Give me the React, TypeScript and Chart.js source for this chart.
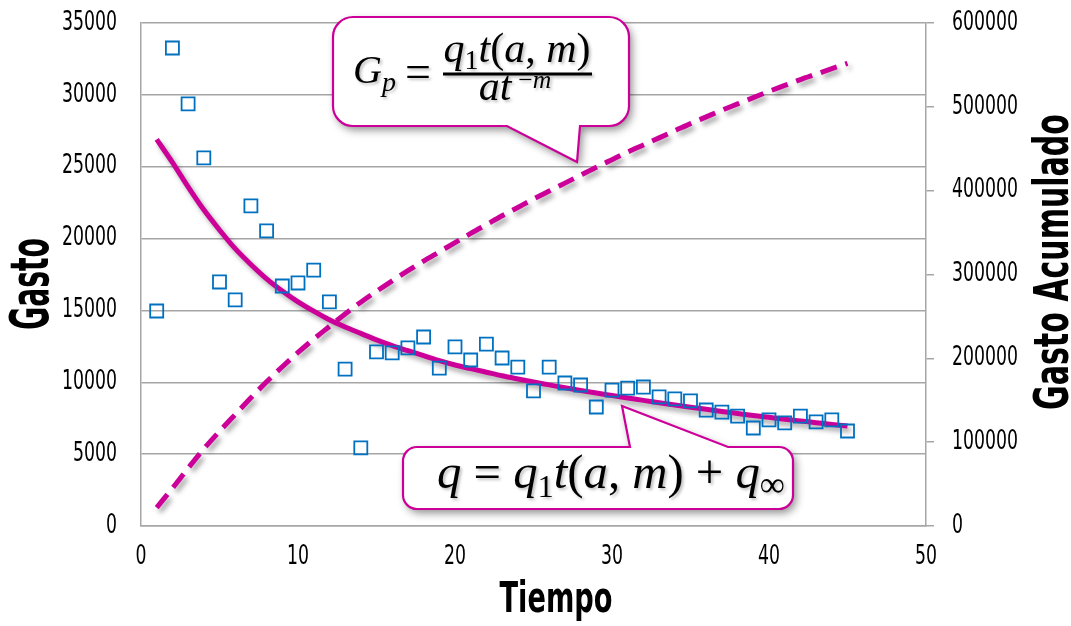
import React, { useEffect, useRef } from 'react';
import { Chart, registerables } from 'chart.js';

Chart.register(...registerables);

// ---------- data ----------
const tiempo = [1, 2, 3, 4, 5, 6, 7, 8, 9, 10, 11, 12, 13, 14, 15, 16, 17, 18, 19, 20, 21, 22, 23, 24, 25, 26, 27, 28, 29, 30, 31, 32, 33, 34, 35, 36, 37, 38, 39, 40, 41, 42, 43, 44, 45];

const gastoObservado = [14960, 33260, 29370, 25610, 16980, 15730, 22270, 20530, 16700, 16910, 17810, 15590, 10920, 5430, 12110, 12040, 12390, 13150, 10990, 12460, 11550, 12660, 11690, 11060, 9400, 11060, 9950, 9810, 8280, 9460, 9600, 9670, 8980, 8840, 8700, 8070, 7930, 7650, 6820, 7380, 7170, 7650, 7240, 7380, 6610];

const gastoModelo = [26900, 25300, 23600, 22000, 20600, 19300, 18200, 17200, 16350, 15600, 14950, 14350, 13850, 13400, 12950, 12550, 12200, 11850, 11500, 11200, 10950, 10700, 10450, 10230, 10020, 9820, 9620, 9430, 9250, 9080, 8910, 8740, 8580, 8420, 8270, 8120, 7970, 7830, 7690, 7560, 7430, 7310, 7190, 7070, 6960];

const gastoAcumulado = [22000, 45000, 69000, 92000, 113000, 133000, 153000, 172000, 190000, 207000, 223000, 238000, 253000, 267000, 280000, 292500, 304500, 316000, 327000, 338000, 349000, 359500, 370000, 380000, 390000, 399500, 409000, 418500, 428000, 437000, 446000, 454500, 463000, 471500, 480000, 488000, 496000, 503500, 511000, 518500, 525500, 532500, 539000, 545500, 552000];

const xRange = [0, 50];
const xStep = 10;
const yLeftRange = [0, 35000];
const yLeftStep = 5000;
const yRightRange = [0, 600000];
const yRightStep = 100000;

const tituloX = 'Tiempo';
const tituloYIzq = 'Gasto';
const tituloYDer = 'Gasto Acumulado';

// ---------- styles ----------
const MAGENTA = '#CC0099';
const BLUE = '#0070C0';
const GRID = '#A6A6A6';
const NARROW = "'Liberation Sans Narrow', 'DejaVu Sans Condensed', 'Arial Narrow', sans-serif";
const SERIF = "'Liberation Serif', 'DejaVu Serif', serif";
const TICK_FONT = `26px ${NARROW}`;
const DIGIT_W = 11; // target width of one digit in tick labels

type Run = { t: string; i?: boolean; s: number; dy?: number };

function runFont(r: Run, k: number) {
  return `${r.i ? 'italic ' : ''}${r.s * k}px ${SERIF}`;
}
function runsWidth(ctx: CanvasRenderingContext2D, runs: Run[], k: number) {
  let w = 0;
  for (const r of runs) {
    ctx.font = runFont(r, k);
    w += ctx.measureText(r.t).width;
  }
  return w;
}
function drawRuns(ctx: CanvasRenderingContext2D, runs: Run[], x: number, y: number, k: number) {
  let cx = x;
  ctx.textAlign = 'left';
  ctx.textBaseline = 'alphabetic';
  for (const r of runs) {
    ctx.font = runFont(r, k);
    ctx.fillText(r.t, cx, y + (r.dy || 0) * k);
    cx += ctx.measureText(r.t).width;
  }
}

function drawStretched(ctx: CanvasRenderingContext2D, text: string, x: number, y: number, angle: number, font: string, target: number) {
  ctx.save();
  ctx.font = font;
  const w = ctx.measureText(text).width;
  ctx.translate(x, y);
  ctx.rotate(angle);
  ctx.scale(target / w, 1);
  ctx.textAlign = 'center';
  ctx.textBaseline = 'alphabetic';
  ctx.fillStyle = '#000';
  ctx.fillText(text, 0, 0);
  ctx.restore();
}

function drawTick(ctx: CanvasRenderingContext2D, text: string, x: number, y: number, align: 'left' | 'right' | 'center') {
  ctx.save();
  ctx.font = TICK_FONT;
  const sx = DIGIT_W / ctx.measureText('0').width;
  const w = ctx.measureText(text).width * sx;
  let left = x;
  if (align === 'right') left = x - w;
  if (align === 'center') left = x - w / 2;
  ctx.translate(left, y);
  ctx.scale(sx, 1);
  ctx.textAlign = 'left';
  ctx.textBaseline = 'middle';
  ctx.fillStyle = '#000';
  ctx.fillText(text, 0, 0);
  ctx.restore();
}

function calloutShape(ctx: CanvasRenderingContext2D, build: () => void) {
  ctx.save();
  ctx.shadowColor = 'rgba(0,0,0,0.45)';
  ctx.shadowBlur = 8;
  ctx.shadowOffsetX = 3;
  ctx.shadowOffsetY = 4;
  ctx.fillStyle = '#fff';
  build();
  ctx.fill();
  ctx.shadowColor = 'transparent';
  ctx.strokeStyle = MAGENTA;
  ctx.lineWidth = 2.2;
  ctx.lineJoin = 'miter';
  ctx.stroke();
  ctx.restore();
}

const bgPlugin = {
  id: 'bg',
  beforeDraw(chart: any) {
    const c = chart.ctx;
    c.save();
    c.fillStyle = '#fff';
    c.fillRect(0, 0, chart.width, chart.height);
    c.restore();
  },
};

const shadowPlugin = {
  id: 'lineShadow',
  beforeDatasetDraw(chart: any, args: any) {
    const ds = chart.data.datasets[args.index];
    if (ds.shadow) {
      const c = chart.ctx;
      c.save();
      c.shadowColor = 'rgba(0,0,0,0.35)';
      c.shadowBlur = 5;
      c.shadowOffsetX = 3;
      c.shadowOffsetY = 4;
    }
  },
  afterDatasetDraw(chart: any, args: any) {
    const ds = chart.data.datasets[args.index];
    if (ds.shadow) chart.ctx.restore();
  },
};

const overlayPlugin = {
  id: 'overlay',
  afterDraw(chart: any) {
    const ctx: CanvasRenderingContext2D = chart.ctx;
    const { x, y, y2 } = chart.scales;
    // tick labels (narrow)
    for (const t of y.ticks) drawTick(ctx, String(t.value), y.right - 24, y.getPixelForValue(t.value), 'right');
    for (const t of y2.ticks) drawTick(ctx, String(t.value), y2.left + 26, y2.getPixelForValue(t.value), 'left');
    for (const t of x.ticks) drawTick(ctx, String(t.value), x.getPixelForValue(t.value), x.top + 31, 'center');

    // axis titles
    drawStretched(ctx, tituloYIzq, 48, 284, -Math.PI / 2, `bold 54px ${NARROW}`, 92);
    drawStretched(ctx, tituloYDer, 1068, 262, -Math.PI / 2, `bold 48px ${NARROW}`, 296);
    drawStretched(ctx, tituloX, 556, 612, 0, `bold 42px ${NARROW}`, 113);

    // callout 1
    calloutShape(ctx, () => {
      const x0 = 333, y0 = 17, x1 = 629, y1 = 126, r = 20;
      ctx.beginPath();
      ctx.moveTo(x0 + r, y0);
      ctx.lineTo(x1 - r, y0);
      ctx.arcTo(x1, y0, x1, y0 + r, r);
      ctx.lineTo(x1, y1 - r);
      ctx.arcTo(x1, y1, x1 - r, y1, r);
      ctx.lineTo(580, y1);
      ctx.lineTo(577, 162);
      ctx.lineTo(507, y1);
      ctx.lineTo(x0 + r, y1);
      ctx.arcTo(x0, y1, x0, y1 - r, r);
      ctx.lineTo(x0, y0 + r);
      ctx.arcTo(x0, y0, x0 + r, y0, r);
      ctx.closePath();
    });
    // callout 2
    calloutShape(ctx, () => {
      const x0 = 403, y0 = 447, x1 = 793, y1 = 509, r = 14;
      ctx.beginPath();
      ctx.moveTo(x0 + r, y0);
      ctx.lineTo(630, y0);
      ctx.lineTo(622, 406);
      ctx.lineTo(728, y0);
      ctx.lineTo(x1 - r, y0);
      ctx.arcTo(x1, y0, x1, y0 + r, r);
      ctx.lineTo(x1, y1 - r);
      ctx.arcTo(x1, y1, x1 - r, y1, r);
      ctx.lineTo(x0 + r, y1);
      ctx.arcTo(x0, y1, x0, y1 - r, r);
      ctx.lineTo(x0, y0 + r);
      ctx.arcTo(x0, y0, x0 + r, y0, r);
      ctx.closePath();
    });

    ctx.save();
    ctx.fillStyle = '#000';
    ctx.shadowColor = 'rgba(0,0,0,0.25)';
    ctx.shadowBlur = 3;
    ctx.shadowOffsetX = 2;
    ctx.shadowOffsetY = 2;

    // formula 1: G_p = q1 t(a,m) / a t^-m
    const left: Run[] = [
      { t: 'G', i: true, s: 40 },
      { t: 'p', i: true, s: 28, dy: 8 },
    ];
    drawRuns(ctx, left, 353, 83, 1);
    drawRuns(ctx, [{ t: '=', s: 46 }], 405, 87, 1);
    const num: Run[] = [
      { t: 'q', i: true, s: 36 },
      { t: '1', s: 24, dy: 6 },
      { t: 't', i: true, s: 36 },
      { t: '(', s: 36 },
      { t: 'a', i: true, s: 36 },
      { t: ', ', s: 36 },
      { t: 'm', i: true, s: 36 },
      { t: ')', s: 36 },
    ];
    const den: Run[] = [
      { t: 'a', i: true, s: 36 },
      { t: 't', i: true, s: 36 },
      { t: '\u2009', s: 30 },
      { t: '\u2212', s: 22, dy: -10 },
      { t: 'm', i: true, s: 22, dy: -10 },
    ];
    const kNum = 147 / runsWidth(ctx, num, 1);
    const wNum = runsWidth(ctx, num, kNum);
    drawRuns(ctx, num, 517 - wNum / 2, 62, kNum);
    const wDen = runsWidth(ctx, den, kNum);
    drawRuns(ctx, den, 515 - wDen / 2, 100, kNum);
    ctx.fillRect(443, 72.5, 149, 3);

    // formula 2: q = q1 t(a,m) + q_inf
    const f2: Run[] = [
      { t: 'q', i: true, s: 36 },
      { t: ' = ', s: 36 },
      { t: 'q', i: true, s: 36 },
      { t: '1', s: 24, dy: 7 },
      { t: 't', i: true, s: 36 },
      { t: '(', s: 36 },
      { t: 'a', i: true, s: 36 },
      { t: ', ', s: 36 },
      { t: 'm', i: true, s: 36 },
      { t: ')', s: 36 },
      { t: ' + ', s: 36 },
      { t: 'q', i: true, s: 36 },
      { t: '\u221E', s: 26, dy: 6 },
    ];
    const k2 = 348 / runsWidth(ctx, f2, 1);
    drawRuns(ctx, f2, 437, 488, k2);
    ctx.restore();
  },
};

export default function App() {
  const ref = useRef<HTMLCanvasElement>(null);
  useEffect(() => {
    document.body.style.margin = '0';
    const canvas = ref.current!;
    const chart = new Chart(canvas, {
      type: 'line',
      data: {
        datasets: [
          {
            label: 'Gasto observado',
            data: tiempo.map((t, i) => ({ x: t, y: gastoObservado[i] })),
            yAxisID: 'y',
            showLine: false,
            pointStyle: 'rect',
            pointRadius: 9.2,
            pointHoverRadius: 9.2,
            pointBorderWidth: 1.8,
            pointBorderColor: BLUE,
            pointBackgroundColor: 'rgba(0,0,0,0)',
            borderColor: BLUE,
            order: 0,
          },
          {
            label: 'Gasto modelo',
            data: tiempo.map((t, i) => ({ x: t, y: gastoModelo[i] })),
            yAxisID: 'y',
            borderColor: MAGENTA,
            borderWidth: 5,
            pointRadius: 0,
            cubicInterpolationMode: 'monotone',
            shadow: true,
            order: 1,
          } as any,
          {
            label: 'Gasto acumulado',
            data: tiempo.map((t, i) => ({ x: t, y: gastoAcumulado[i] })),
            yAxisID: 'y2',
            borderColor: MAGENTA,
            borderWidth: 5,
            borderDash: [17, 9],
            pointRadius: 0,
            cubicInterpolationMode: 'monotone',
            shadow: true,
            order: 2,
          } as any,
        ],
      },
      options: {
        responsive: false,
        animation: false,
        layout: { padding: { top: 23, left: 0, right: 0, bottom: 0 } },
        plugins: { legend: { display: false }, tooltip: { enabled: false } },
        scales: {
          x: {
            type: 'linear',
            min: xRange[0],
            max: xRange[1],
            afterFit: (s: any) => { s.height = 100; s.paddingLeft = 0; s.paddingRight = 0; },
            ticks: {
              stepSize: xStep,
              color: 'rgba(0,0,0,0)',
              padding: 18,
              font: { family: NARROW, size: 14 },
              maxRotation: 0,
            },
            grid: { display: false, drawTicks: false },
            border: { display: true, color: GRID, width: 1.5 },
          },
          y: {
            type: 'linear',
            position: 'left',
            min: yLeftRange[0],
            max: yLeftRange[1],
            afterFit: (s: any) => { s.width = 141; s.paddingTop = 0; s.paddingBottom = 0; },
            ticks: {
              stepSize: yLeftStep,
              color: 'rgba(0,0,0,0)',
              padding: 24,
              font: { family: NARROW, size: 14 },
              callback: (v: any) => String(v),
            },
            grid: { color: GRID, lineWidth: 1.5, drawTicks: false },
            border: { display: true, color: GRID, width: 1.5 },
          },
          y2: {
            type: 'linear',
            position: 'right',
            min: yRightRange[0],
            max: yRightRange[1],
            afterFit: (s: any) => { s.width = 145; s.paddingTop = 0; s.paddingBottom = 0; },
            ticks: {
              stepSize: yRightStep,
              color: 'rgba(0,0,0,0)',
              padding: 18,
              font: { family: NARROW, size: 14 },
              callback: (v: any) => String(v),
            },
            grid: { drawOnChartArea: false, drawTicks: true, tickLength: 8, color: GRID, lineWidth: 1.5 },
            border: { display: true, color: GRID, width: 1.5 },
          },
        },
      },
      plugins: [bgPlugin, shadowPlugin, overlayPlugin],
    } as any);
    return () => chart.destroy();
  }, []);
  return (
    <div style={{ width: 1071, height: 626, background: '#fff' }}>
      <canvas ref={ref} width={1071} height={626} />
    </div>
  );
}
